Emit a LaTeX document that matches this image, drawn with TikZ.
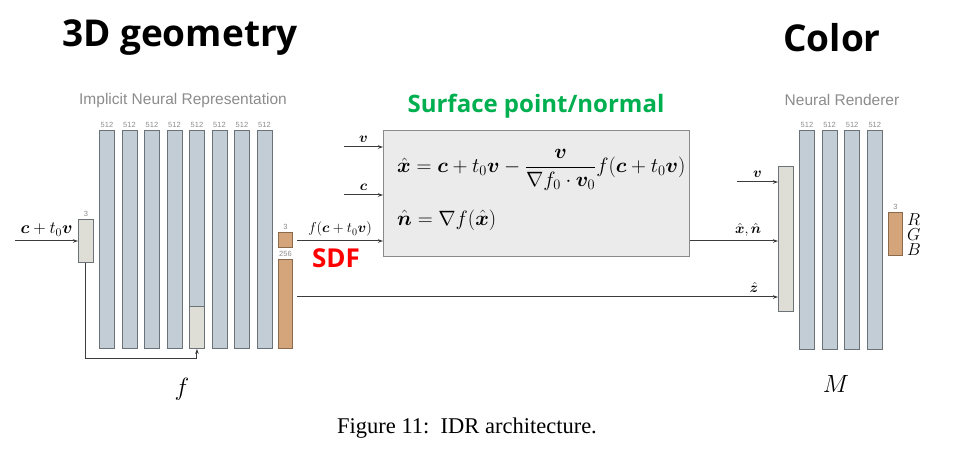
\documentclass[tikz,border=0pt]{standalone}
\usepackage{amsmath,bm}
\usepackage{fontspec}
\setmainfont{Liberation Serif}
\newfontfamily\titlefont{Open Sans}
\newfontfamily\arialfont{Liberation Sans}
\usetikzlibrary{arrows.meta}
\definecolor{barblue}{HTML}{C3CDD6}
\definecolor{barline}{HTML}{6B7378}
\definecolor{inboxc}{HTML}{DEDED6}
\definecolor{orng}{HTML}{D4A57A}
\definecolor{orngline}{HTML}{8C6A4C}
\definecolor{eqbox}{HTML}{EBEBEB}
\definecolor{eqline}{HTML}{8A8A8A}
\definecolor{grn}{HTML}{00B050}
\definecolor{lblgray}{HTML}{8C8C8C}
\definecolor{arr}{HTML}{3C3C3C}
\tikzset{
  layer/.style={draw=barline, line width=0.9pt, fill=barblue, anchor=north west, inner sep=0pt, minimum width=15pt, minimum height=218pt},
  grayin/.style={draw=barline, line width=0.9pt, fill=inboxc, anchor=north west, inner sep=0pt, minimum width=15pt},
  orbox/.style={draw=orngline, line width=0.9pt, fill=orng, anchor=north west, inner sep=0pt, minimum width=14pt},
  dimlbl/.style={text=lblgray, font=\arialfont\fontsize{7.5}{7.5}\selectfont, inner sep=0pt, label distance=2pt},
  flow/.style={draw=arr, line width=1pt, -{Stealth[length=5pt,width=3.5pt]}},
  mathlbl/.style={font=\fontsize{15}{15}\selectfont, inner sep=0pt},
  sectitle/.style={font=\titlefont\bfseries\fontsize{37}{37}\selectfont},
  grouptitle/.style={text=lblgray, font=\arialfont\fontsize{15.5}{15.5}\selectfont}
}
\begin{document}
\begin{tikzpicture}[x=1pt,y=-1pt]
\useasboundingbox[fill=white] (0,0) rectangle (978,462);
% titles
\node[sectitle] (t3d) at (180,38) {3D geometry};
\node[sectitle] (tcol) at (832,38) {Color};
\node[grouptitle] (tinr) at (183,100) {Implicit Neural Representation};
\node[grouptitle] (tnr) at (842,100) {Neural Renderer};
% implicit network
\node[grayin, minimum height=43pt, label={[dimlbl]above:3}] (inb) at (78,219) {};
\foreach \i in {1,...,8}
  \node[layer, label={[dimlbl]above:512}] (b\i) at ({99+22.5*(\i-1)},130) {};
\fill[inboxc] ([xshift=0.45pt,yshift=-0.45pt]b5.south west) rectangle ([xshift=-0.45pt]b5.east |- 0,306);
\draw[barline, line width=0.9pt] (b5.west |- 0,306) -- (b5.east |- 0,306);
\draw[barline, line width=0.9pt] (b5.north west) rectangle (b5.south east);
\node[orbox, minimum height=15pt, label={[dimlbl]above:3}] (osdf) at (278,232) {};
\node[orbox, minimum height=89pt, label={[dimlbl]above:256}] (ofeat) at (278,259) {};
% input
\coordinate (inp) at (15,241);
\draw[flow] (inp) -- node[mathlbl, font=\fontsize{17}{17}\selectfont, above=4pt] (linp) {$\bm{c}+t_0\bm{v}$} (inp -| inb.west);
\draw[flow] (inb.south) -- ++(0,96) -| (b5.south);
% surface point box
\node[draw=eqline, line width=1pt, fill=eqbox, anchor=north west, minimum width=306pt, minimum height=126pt, inner sep=0pt] (eq) at (383,130) {};
\node[text=grn, font=\titlefont\bfseries\fontsize{24}{24}\selectfont] (tsp) at (536,106) {Surface point/normal};
\node[font=\fontsize{19.5}{19.5}\selectfont, anchor=west, inner sep=0pt] (eqx) at (397,170) {$\hat{\bm{x}}=\bm{c}+t_0\bm{v}-\dfrac{\bm{v}}{\nabla f_0\cdot\bm{v}_0}f(\bm{c}+t_0\bm{v})$};
\node[font=\fontsize{19.5}{19.5}\selectfont, anchor=west, inner sep=0pt] (eqn) at (397,220) {$\hat{\bm{n}}=\nabla f(\hat{\bm{x}})$};
\coordinate (sv) at (344,147);
\coordinate (sc) at (344,195);
\coordinate (sf) at (297,241);
\draw[flow] (sv) -- node[mathlbl, above=4pt] (lv) {$\bm{v}$} (sv -| eq.west);
\draw[flow] (sc) -- node[mathlbl, above=4pt] (lc) {$\bm{c}$} (sc -| eq.west);
\draw[flow] (sf) -- node[mathlbl, font=\fontsize{14}{14}\selectfont, above=4pt] (lf) {$f(\bm{c}+t_0\bm{v})$} (sf -| eq.west);
\node[text=red, font=\titlefont\bfseries\fontsize{26}{26}\selectfont] (tsdf) at (336,258) {SDF};
% renderer
\node[grayin, minimum height=145pt] (rin) at (778,166) {};
\foreach \i in {1,...,4}
  \node[layer, minimum height=219pt, label={[dimlbl]above:512}] (r\i) at ({799+22.6*(\i-1)},130) {};
\node[orbox, minimum height=43pt, label={[dimlbl]above:3}] (orgb) at (888,212) {};
\node[mathlbl, font=\fontsize{16}{16}\selectfont, anchor=west] (lr) at (907,220) {$R$};
\node[mathlbl, font=\fontsize{16}{16}\selectfont, anchor=west] (lg) at (907,235) {$G$};
\node[mathlbl, font=\fontsize{16}{16}\selectfont, anchor=west] (lb) at (907,250) {$B$};
\coordinate (rv) at (737,182);
\coordinate (rz) at (297,297);
\coordinate (rx) at (eq.east |- sf);
\draw[flow] (rv) -- node[mathlbl, above=4pt] (lrv) {$\bm{v}$} (rv -| rin.west);
\draw[flow] (rx) -- node[mathlbl, above=4pt, pos=0.66] (lrx) {$\hat{\bm{x}},\hat{\bm{n}}$} (rx -| rin.west);
\draw[flow] (rz) -- node[mathlbl, above=4pt, pos=0.95] (lrz) {$\hat{\bm{z}}$} (rz -| rin.west);
% function names and caption
\node[font=\fontsize{26}{26}\selectfont] (lfn) at (182,389) {$f$};
\node[font=\fontsize{28}{28}\selectfont] (lM) at (836,384) {$M$};
\node[font=\fontsize{22.5}{22.5}\selectfont] (cap) at (467,428) {Figure 11:\ \ IDR architecture.};
\end{tikzpicture}
\end{document}
